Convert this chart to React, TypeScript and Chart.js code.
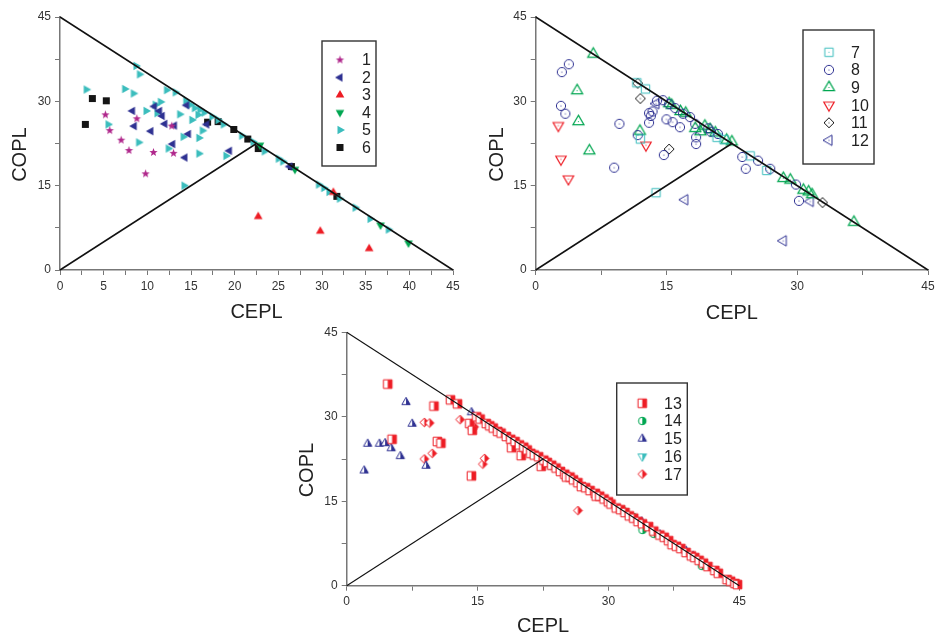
import React, { useEffect, useRef } from 'react';
import { Chart, registerables } from 'chart.js';

Chart.register(...registerables);

const FONT = "'Liberation Sans', Arial, Helvetica, sans-serif";

// ---------------- data (CEPL, COPL) ----------------
// panel 1
const s1: [number, number][] = [[5.2, 27.6], [5.7, 24.8], [8.8, 26.9], [7.0, 23.1], [7.9, 21.25], [10.7, 20.9], [9.8, 17.1], [12.8, 25.6], [13.0, 20.75]];
const s2: [number, number][] = [[8.3, 28.3], [8.5, 25.6], [10.4, 24.7], [10.8, 29.1], [11.4, 28.3], [11.7, 27.4], [12.0, 26.0], [13.1, 25.7], [12.9, 22.4], [14.7, 24.2], [14.3, 20.0], [14.5, 29.3], [19.4, 21.2], [16.8, 25.9], [26.3, 18.4]];
const s3: [number, number][] = [[22.7, 9.5], [29.8, 6.9], [35.4, 3.8], [31.3, 13.8]];
const s4: [number, number][] = [[22.9, 22.2], [26.9, 17.9], [36.7, 8.0], [39.9, 4.8]];
const s5: [number, number][] = [[3.0, 32.1], [5.5, 25.9], [7.4, 32.2], [8.4, 31.4], [8.7, 36.3], [9.1, 34.8], [9.0, 22.7], [9.85, 28.3], [10.9, 29.4], [11.1, 27.9], [11.5, 29.9], [12.2, 32.0], [12.4, 21.6], [13.2, 31.6], [13.7, 27.7], [14.1, 23.7], [14.2, 15.0], [14.4, 30.1], [15.1, 26.7], [15.4, 28.8], [15.8, 27.6], [15.9, 23.5], [15.9, 20.7], [16.3, 24.8], [16.5, 28.0], [17.4, 27.3], [18.1, 26.7], [18.7, 25.9], [19.0, 20.3], [20.8, 23.9], [22.1, 22.8], [23.4, 21.1], [25.0, 19.8], [25.5, 19.3], [29.6, 15.2], [30.2, 14.6], [30.8, 13.9], [32.0, 12.7], [33.8, 11.1], [35.5, 9.1], [37.6, 7.2], [14.9, 29.4], [16.0, 28.5]];
const s6: [number, number][] = [[2.9, 25.9], [3.7, 30.5], [5.3, 30.1], [16.9, 26.3], [18.1, 26.4], [19.9, 25.0], [21.5, 23.3], [22.7, 21.6], [26.5, 18.4], [31.7, 13.1]];
// panel 2
const s7: [number, number][] = [[11.6, 33.3], [12.6, 32.2], [13.8, 13.75], [12.0, 23.3], [20.8, 23.6], [21.6, 23.2], [24.6, 20.3], [26.5, 17.7]];
const s8: [number, number][] = [[3.0, 35.2], [3.8, 36.6], [2.9, 29.2], [3.4, 27.8], [9.6, 26.0], [9.0, 18.2], [11.7, 24.0], [13.0, 27.9], [13.4, 28.2], [13.2, 27.4], [13.0, 26.2], [13.9, 30.1], [14.6, 30.2], [15.0, 26.8], [15.7, 26.3], [14.7, 20.45], [16.55, 25.4], [16.0, 28.8], [16.9, 27.8], [17.7, 27.2], [18.4, 23.6], [18.4, 22.4], [20.1, 24.6], [20.9, 24.2], [23.7, 20.1], [24.1, 18.0], [25.5, 19.45], [26.9, 18.0], [29.85, 15.2], [30.2, 12.3], [15.3, 29.5], [19.8, 25.2], [18.3, 26.0]];
const s9: [number, number][] = [[6.6, 38.4], [4.75, 31.9], [4.9, 26.4], [6.15, 21.2], [11.95, 24.7], [15.3, 29.6], [15.6, 29.3], [16.6, 28.2], [17.2, 27.9], [18.3, 25.2], [18.9, 24.6], [19.4, 25.6], [20.0, 25.0], [20.6, 24.4], [21.9, 23.1], [22.5, 22.8], [28.4, 16.3], [29.2, 16.0], [30.7, 14.2], [31.3, 13.9], [31.7, 13.4], [36.5, 8.5]];
const s10: [number, number][] = [[2.6, 25.7], [2.9, 19.7], [3.75, 16.2], [12.65, 22.2]];
const s11: [number, number][] = [[11.7, 33.2], [12.0, 30.5], [15.3, 21.5], [32.9, 12.0]];
const s12: [number, number][] = [[13.8, 29.6], [17.1, 12.5], [28.4, 5.2], [31.5, 12.2]];
// panel 3
const s13: [number, number][] = [[4.7, 35.8], [10.0, 31.9], [5.2, 26.0], [10.4, 25.6], [10.8, 25.3], [14.3, 19.5], [11.9, 33.0], [12.7, 32.3], [14.1, 28.8], [14.4, 27.6], [14.9, 30.0], [15.3, 29.6], [16.0, 28.8], [16.4, 28.4], [16.8, 28.0], [17.3, 27.4], [17.7, 27.1], [18.3, 26.5], [18.8, 26.0], [18.9, 24.5], [19.3, 25.6], [19.8, 25.0], [20.0, 23.1], [20.3, 24.6], [20.7, 24.1], [21.1, 23.5], [21.5, 23.2], [22.0, 22.9], [22.3, 21.2], [22.6, 22.3], [23.0, 21.9], [23.5, 21.4], [24.0, 20.9], [24.5, 20.3], [25.0, 19.8], [25.2, 19.3], [25.6, 19.3], [26.0, 18.8], [26.5, 18.3], [26.9, 17.6], [27.4, 17.4], [27.9, 16.9], [28.5, 16.4], [28.6, 15.9], [29.0, 15.9], [29.5, 15.4], [30.0, 14.9], [30.3, 14.5], [30.9, 13.8], [31.4, 13.5], [31.9, 13.0], [32.4, 12.4], [32.9, 12.0], [33.4, 11.4], [33.9, 11.0], [34.6, 10.5], [35.2, 9.7], [35.9, 9.0], [36.4, 8.6], [36.9, 8.0], [37.3, 7.3], [37.8, 7.0], [38.3, 6.6], [38.9, 5.9], [39.5, 5.3], [39.9, 5.0], [40.4, 4.5], [40.9, 4.0], [41.4, 3.4], [42.2, 2.7], [42.6, 2.2], [43.6, 1.1], [44.0, 0.8], [44.5, 0.4], [44.8, 0.2]];
const s14: [number, number][] = [[23.4, 21.35], [31.6, 13.4], [32.85, 12.2], [33.9, 9.9], [35.2, 9.2], [40.7, 3.5]];
const s15: [number, number][] = [[2.0, 20.45], [2.4, 25.2], [3.75, 25.2], [4.4, 25.3], [5.1, 24.4], [6.15, 23.0], [6.8, 32.6], [7.5, 28.75], [9.1, 21.3], [14.3, 30.8], [17.7, 27.3], [33.8, 11.4], [34.3, 10.7], [35.9, 9.1], [36.7, 8.4], [38.9, 6.2], [39.7, 5.3]];
const s16: [number, number][] = [];
const s17: [number, number][] = [[8.9, 29.0], [9.5, 28.9], [13.0, 29.5], [14.4, 27.8], [14.6, 28.2], [8.9, 22.5], [9.8, 23.5], [15.6, 21.6], [15.8, 22.6], [26.5, 13.35]];

// reference lines
const lineOuter: [number, number][] = [[0, 45], [45, 0]];
const lineInner: [number, number][] = [[0, 0], [22.5, 22.5]];

// ---------------- markers ----------------
type Shape = 'star' | 'triUp' | 'triDown' | 'triLeft' | 'triRight' | 'square' | 'circle' | 'diamond';
type Fill = 'full' | 'open' | 'half';

function tracePath(ctx: CanvasRenderingContext2D, shape: Shape, cx: number, cy: number, r: number) {
  ctx.beginPath();
  const poly = (pts: [number, number][]) => {
    pts.forEach(([x, y], i) => (i ? ctx.lineTo(cx + x, cy + y) : ctx.moveTo(cx + x, cy + y)));
    ctx.closePath();
  };
  switch (shape) {
    case 'circle': ctx.arc(cx, cy, r, 0, Math.PI * 2); break;
    case 'square': ctx.rect(cx - r, cy - r, 2 * r, 2 * r); break;
    case 'diamond': poly([[0, -r], [r, 0], [0, r], [-r, 0]]); break;
    case 'triUp': poly([[0, -r], [r * 0.866, r * 0.5], [-r * 0.866, r * 0.5]]); break;
    case 'triDown': poly([[0, r], [r * 0.866, -r * 0.5], [-r * 0.866, -r * 0.5]]); break;
    case 'triLeft': poly([[-r, 0], [r * 0.5, -r * 0.866], [r * 0.5, r * 0.866]]); break;
    case 'triRight': poly([[r, 0], [-r * 0.5, -r * 0.866], [-r * 0.5, r * 0.866]]); break;
    case 'star': {
      const pts: [number, number][] = [];
      for (let i = 0; i < 10; i++) {
        const a = -Math.PI / 2 + (i * Math.PI) / 5;
        const rr = i % 2 ? r * 0.42 : r;
        pts.push([Math.cos(a) * rr, Math.sin(a) * rr]);
      }
      poly(pts);
      break;
    }
  }
}

function makeMarker(shape: Shape, r: number, color: string, fill: Fill, lw = 1): HTMLCanvasElement {
  const size = Math.ceil(2 * r + 4);
  const c = document.createElement('canvas');
  c.width = size;
  c.height = size;
  const ctx = c.getContext('2d')!;
  const cx = size / 2;
  const cy = size / 2;
  if (fill === 'full') {
    tracePath(ctx, shape, cx, cy, r);
    ctx.fillStyle = color;
    ctx.fill();
  } else {
    if (fill === 'half') {
      tracePath(ctx, shape, cx, cy, r);
      ctx.fillStyle = '#ffffff';
      ctx.fill();
      ctx.save();
      tracePath(ctx, shape, cx, cy, r);
      ctx.clip();
      ctx.fillStyle = color;
      ctx.fillRect(cx, 0, size, size);
      ctx.restore();
    }
    tracePath(ctx, shape, cx, cy, r);
    ctx.strokeStyle = color;
    ctx.lineWidth = lw;
    ctx.stroke();
    if (fill === 'open') {
      ctx.beginPath();
      ctx.arc(cx, cy, 0.6, 0, Math.PI * 2);
      ctx.fillStyle = color;
      ctx.fill();
    }
  }
  return c;
}

const MAGENTA = '#B0288C';
const NAVY = '#2E3192';
const RED = '#ED1C24';
const GREEN = '#00A651';
const CYAN = '#3BBDBD';
const BLACK = '#151515';

// ---------------- legend plugin ----------------
const boxLegend = {
  id: 'boxLegend',
  afterDatasetsDraw(chart: any, _args: any, opts: any) {
    if (!opts || !opts.box) return;
    const { ctx } = chart;
    const [x0, y0, x1, y1] = opts.box;
    ctx.save();
    ctx.fillStyle = '#ffffff';
    ctx.fillRect(x0, y0, x1 - x0, y1 - y0);
    ctx.strokeStyle = '#333333';
    ctx.lineWidth = 1.4;
    ctx.strokeRect(x0, y0, x1 - x0, y1 - y0);
    ctx.font = `16px ${FONT}`;
    ctx.fillStyle = '#222222';
    ctx.textBaseline = 'middle';
    ctx.textAlign = 'left';
    let row = 0;
    chart.data.datasets.forEach((ds: any) => {
      if (!ds.label) return;
      const y = opts.rowY + row * opts.rowGap;
      const img = ds.pointStyle as HTMLCanvasElement;
      ctx.drawImage(img, opts.markerX - img.width / 2, y - img.height / 2);
      ctx.fillText(ds.label, opts.textX, y + 1);
      row++;
    });
    ctx.restore();
  },
};

// ---------------- panels ----------------
type Series = { label: string; data: [number, number][]; marker: HTMLCanvasElement };

type PanelCfg = {
  left: number; top: number; w: number; h: number;
  yW: number; xH: number; padTop: number; padRight: number;
  yTitlePad: number; xTitlePad: number;
  xStep: number; xLabelStep: number;
  lineW: number;
  legend: { box: number[]; markerX: number; textX: number; rowY: number; rowGap: number };
  series: () => Series[];
};

const panels: PanelCfg[] = [
  {
    left: 0, top: 0, w: 470, h: 330, yW: 60, xH: 60, padTop: 17, padRight: 17,
    yTitlePad: 10, xTitlePad: 7.4, xStep: 2.5, xLabelStep: 5, lineW: 1.5,
    legend: { box: [322, 41, 376, 166], markerX: 340, textX: 362, rowY: 60, rowGap: 17.5 },
    series: () => [
      { label: '1', data: s1, marker: makeMarker('star', 4.4, MAGENTA, 'full') },
      { label: '2', data: s2, marker: makeMarker('triLeft', 5, NAVY, 'full') },
      { label: '3', data: s3, marker: makeMarker('triUp', 5, RED, 'full') },
      { label: '4', data: s4, marker: makeMarker('triDown', 5, GREEN, 'full') },
      { label: '5', data: s5, marker: makeMarker('triRight', 5, CYAN, 'full') },
      { label: '6', data: s6, marker: makeMarker('square', 3.5, BLACK, 'full') },
    ],
  },
  {
    left: 470, top: 0, w: 470, h: 330, yW: 65.7, xH: 60, padTop: 17, padRight: 12,
    yTitlePad: 17, xTitlePad: 7, xStep: 7.5, xLabelStep: 15, lineW: 1.5,
    legend: { box: [333, 30, 404, 164], markerX: 359, textX: 381, rowY: 52.3, rowGap: 17.6 },
    series: () => [
      { label: '7', data: s7, marker: makeMarker('square', 4.2, CYAN, 'open') },
      { label: '8', data: s8, marker: makeMarker('circle', 4.6, NAVY, 'open') },
      { label: '9', data: s9, marker: makeMarker('triUp', 6.4, GREEN, 'open', 1.2) },
      { label: '10', data: s10, marker: makeMarker('triDown', 6, RED, 'open', 1.2) },
      { label: '11', data: s11, marker: makeMarker('diamond', 5, BLACK, 'open') },
      { label: '12', data: s12, marker: makeMarker('triLeft', 6, NAVY, 'open') },
    ],
  },
  {
    left: 290, top: 320, w: 470, h: 312, yW: 56.7, xH: 46.3, padTop: 12.3, padRight: 20.7,
    yTitlePad: 7.6, xTitlePad: -4.9, xStep: 7.5, xLabelStep: 15, lineW: 1.1,
    legend: { box: [326.7, 63, 397.3, 175], markerX: 352.3, textX: 374, rowY: 83.3, rowGap: 17.7 },
    series: () => [
      { label: '13', data: s13, marker: makeMarker('square', 4.3, RED, 'half') },
      { label: '14', data: s14, marker: makeMarker('circle', 3.8, GREEN, 'half') },
      { label: '15', data: s15, marker: makeMarker('triUp', 4.8, NAVY, 'half') },
      { label: '16', data: s16, marker: makeMarker('triDown', 5, CYAN, 'half') },
      { label: '17', data: s17, marker: makeMarker('diamond', 4.4, RED, 'half') },
    ],
  },
];

const toXY = (arr: [number, number][]) => arr.map(([x, y]) => ({ x, y }));

function buildChart(canvas: HTMLCanvasElement, p: PanelCfg) {
  const series = p.series();
  const datasets: any[] = series.map((s) => ({
    label: s.label,
    data: toXY(s.data),
    pointStyle: s.marker,
    pointRadius: 5,
    showLine: false,
    clip: false,
    order: 1,
  }));
  [lineOuter, lineInner].forEach((l) =>
    datasets.push({
      label: '',
      data: toXY(l),
      showLine: true,
      borderColor: '#111111',
      borderWidth: p.lineW,
      pointRadius: 0,
      clip: false,
      order: 0,
    })
  );
  const tickFont = { size: 12, family: FONT };
  const axisCommon = {
    type: 'linear',
    min: 0,
    max: 45,
    grid: { drawOnChartArea: false, drawTicks: true, tickLength: 5, tickColor: '#777777', tickWidth: 1 },
    border: { display: true, color: '#777777', width: 1.5 },
  };
  return new Chart(canvas, {
    type: 'scatter',
    data: { datasets },
    plugins: [boxLegend],
    options: {
      animation: false,
      responsive: false,
      events: [],
      layout: { padding: { left: 0, top: p.padTop, right: p.padRight, bottom: 0 } },
      plugins: {
        legend: { display: false },
        tooltip: { enabled: false },
        boxLegend: p.legend,
      } as any,
      scales: {
        x: {
          ...axisCommon,
          position: 'bottom',
          afterFit: (s: any) => { s.height = p.xH; },
          ticks: {
            stepSize: p.xStep,
            autoSkip: false,
            maxRotation: 0,
            padding: 4,
            color: '#333333',
            font: tickFont,
            callback: (v: any) => (Math.abs(v % p.xLabelStep) < 1e-6 ? String(v) : ''),
          },
          title: {
            display: true,
            text: 'CEPL',
            color: '#222222',
            font: { size: 20, family: FONT, lineHeight: 1 },
            padding: { top: 0, bottom: p.xTitlePad },
          },
        },
        y: {
          ...axisCommon,
          position: 'left',
          afterFit: (s: any) => { s.width = p.yW; },
          ticks: {
            stepSize: 7.5,
            autoSkip: false,
            padding: 4,
            color: '#333333',
            font: tickFont,
            callback: (v: any) => (Math.abs(v % 15) < 1e-6 ? String(v) : ''),
          },
          title: {
            display: true,
            text: 'COPL    ',
            color: '#222222',
            font: { size: 20, family: FONT, lineHeight: 1 },
            padding: { top: p.yTitlePad, bottom: 0 },
          },
        },
      } as any,
    },
  } as any);
}

function Panel({ cfg }: { cfg: PanelCfg }) {
  const ref = useRef<HTMLCanvasElement>(null);
  useEffect(() => {
    if (!ref.current) return;
    const chart = buildChart(ref.current, cfg);
    return () => chart.destroy();
  }, [cfg]);
  return (
    <canvas
      ref={ref}
      width={cfg.w}
      height={cfg.h}
      style={{ position: 'absolute', left: cfg.left, top: cfg.top, width: cfg.w, height: cfg.h }}
    />
  );
}

export default function App() {
  return (
    <div style={{ position: 'fixed', left: 0, top: 0, width: 940, height: 632, background: '#ffffff', overflow: 'hidden' }}>
      {panels.map((p, i) => (
        <Panel key={i} cfg={p} />
      ))}
    </div>
  );
}
